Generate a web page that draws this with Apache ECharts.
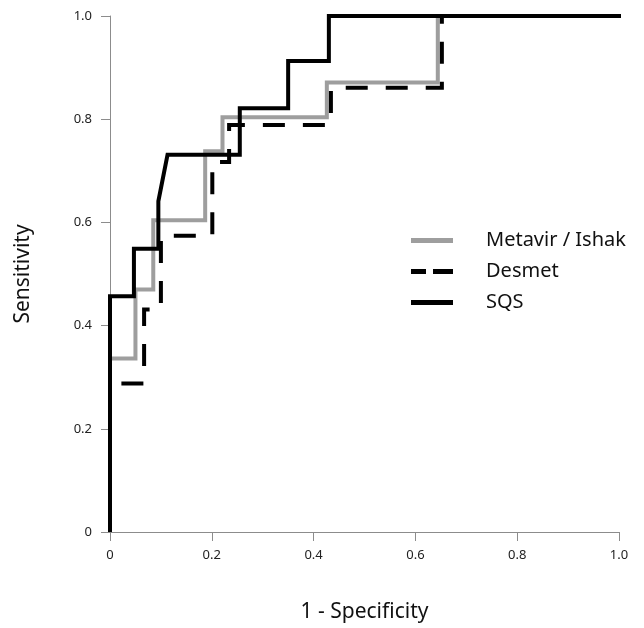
<!DOCTYPE html>
<html>
<head>
<meta charset="utf-8">
<script src="https://cdn.jsdelivr.net/npm/echarts@6/dist/echarts.min.js"></script>
<style>
  html, body { margin: 0; padding: 0; background: #fff; }
  #chart { width: 644px; height: 628px; }
</style>
</head>
<body>
<div id="chart"></div>
<script>
// ROC curve vertices (1 - specificity, sensitivity)
var metavirFpr = [0, 0, 0.050, 0.050, 0.085, 0.085, 0.187, 0.187, 0.221, 0.221, 0.426, 0.426, 0.644, 0.644, 1.02];
var metavirTpr = [0, 0.336, 0.336, 0.470, 0.470, 0.604, 0.604, 0.738, 0.738, 0.804, 0.804, 0.871, 0.871, 1, 1];

var desmetFpr = [0, 0, 0.067, 0.067, 0.100, 0.100, 0.201, 0.201, 0.234, 0.234, 0.434, 0.434, 0.652, 0.652, 1.02];
var desmetTpr = [0, 0.288, 0.288, 0.431, 0.431, 0.574, 0.574, 0.717, 0.717, 0.789, 0.789, 0.861, 0.861, 1, 1];

var sqsFpr = [0, 0, 0.047, 0.047, 0.095, 0.095, 0.113, 0.255, 0.255, 0.350, 0.350, 0.430, 0.430, 1.02];
var sqsTpr = [0, 0.457, 0.457, 0.549, 0.549, 0.641, 0.731, 0.731, 0.821, 0.821, 0.913, 0.913, 1, 1];

var seriesNames = ['Metavir / Ishak', 'Desmet', 'SQS'];
var tickLabels = ['0', '0.2', '0.4', '0.6', '0.8', '1.0'];

function pairs(xs, ys) {
  return xs.map(function (x, i) { return [x, ys[i]]; });
}
function tickLabel(v) {
  return tickLabels[Math.round(v / 0.2)];
}

var chart = echarts.init(document.getElementById('chart'));
var font = 'Noto Sans';
var axisGrey = '#8c8c8c';
var grey = '#9e9e9e';

var option = {
  animation: false,
  textStyle: { fontFamily: font },
  grid: { left: 110, right: 25, top: 16, bottom: 96 },
  legend: {
    orient: 'vertical',
    left: 411,
    top: 230,
    padding: 0,
    itemWidth: 42,
    itemHeight: 5,
    itemGap: 10,
    textStyle: { fontFamily: font, fontSize: 20, lineHeight: 21, color: '#111', padding: [0, 0, 0, 28] },
    data: [
      { name: seriesNames[0], icon: 'path://M0,0h42v5h-42z', itemStyle: { color: grey } },
      { name: seriesNames[1], icon: 'path://M0,0h15v5h-15z M22,0h20v5h-20z', itemStyle: { color: '#000' } },
      { name: seriesNames[2], icon: 'path://M0,0h42v5h-42z', itemStyle: { color: '#000' } }
    ]
  },
  xAxis: {
    type: 'value',
    min: 0, max: 1, interval: 0.2,
    name: '1 - Specificity',
    nameLocation: 'middle',
    nameGap: 70,
    nameTextStyle: { fontSize: 21, color: '#111', fontFamily: font },
    splitLine: { show: false },
    axisLine: { lineStyle: { color: axisGrey, width: 1 } },
    axisTick: { show: true, length: 9, lineStyle: { color: axisGrey } },
    axisLabel: { margin: 17, fontSize: 13, color: '#222', formatter: tickLabel }
  },
  yAxis: {
    type: 'value',
    min: 0, max: 1, interval: 0.2,
    name: 'Sensitivity',
    nameLocation: 'middle',
    nameGap: 76,
    nameTextStyle: { fontSize: 21, color: '#111', fontFamily: font },
    splitLine: { show: false },
    axisLine: { show: true, lineStyle: { color: axisGrey, width: 1 } },
    axisTick: { show: true, length: 9, lineStyle: { color: axisGrey } },
    axisLabel: { margin: 18, fontSize: 13, color: '#222', formatter: tickLabel }
  },
  series: [
    {
      name: seriesNames[0], type: 'line', symbol: 'none', clip: false,
      lineStyle: { color: grey, width: 4, join: 'miter' },
      itemStyle: { color: grey },
      data: pairs(metavirFpr, metavirTpr)
    },
    {
      name: seriesNames[1], type: 'line', symbol: 'none', clip: false,
      lineStyle: { color: '#000', width: 4, type: [22, 18], join: 'miter' },
      itemStyle: { color: '#000' },
      data: pairs(desmetFpr, desmetTpr)
    },
    {
      name: seriesNames[2], type: 'line', symbol: 'none', clip: false,
      lineStyle: { color: '#000', width: 4, join: 'miter' },
      itemStyle: { color: '#000' },
      data: pairs(sqsFpr, sqsTpr)
    }
  ]
};
chart.setOption(option);
</script>
</body>
</html>
